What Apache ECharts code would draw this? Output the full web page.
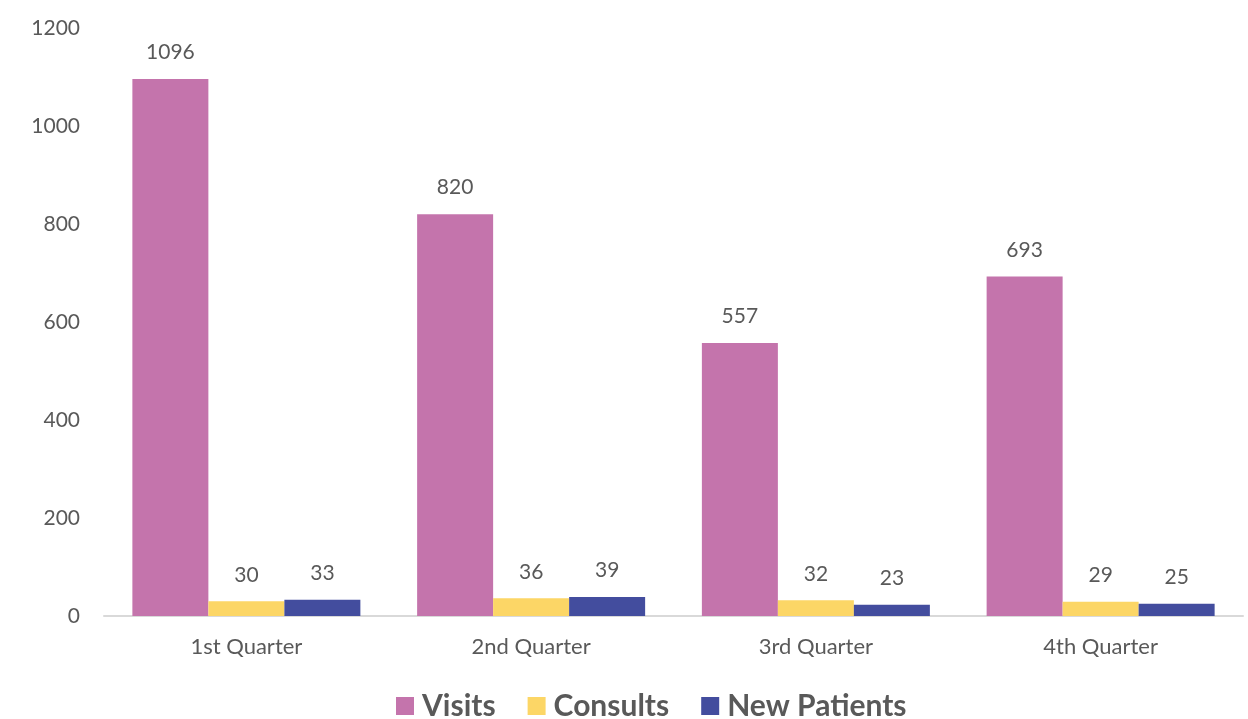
<!DOCTYPE html>
<html><head><meta charset="utf-8">
<script src="https://cdn.jsdelivr.net/npm/echarts@6/dist/echarts.min.js"></script>
<style>html,body{margin:0;padding:0;background:#fff}#c{width:1248px;height:719px}</style>
</head><body><div id="c"></div>
<script>
const categories = ['1st Quarter','2nd Quarter','3rd Quarter','4th Quarter'];
const visits = [1096, 820, 557, 693];
const consults = [30, 36, 32, 29];
const newPatients = [33, 39, 23, 25];
const yTicks = [0, 200, 400, 600, 800, 1000, 1200];

const FONT = 'Lato, "Open Sans", sans-serif';
const TXT = '#595959';
const chart = echarts.init(document.getElementById('c'));
function ser(name, data, color){
  return {name, type:'bar', data, barWidth:76, barGap:'0%',
    itemStyle:{color},
    label:{show:true, position:'top', distance:16, color:TXT, fontSize:21, fontFamily:FONT}};
}
chart.setOption({
  animation:false,
  textStyle:{fontFamily:FONT},
  grid:{left:104, right:5, top:28, bottom:103, containLabel:false},
  legend:{bottom:-7, left:391, itemWidth:18, itemHeight:18, itemGap:32, icon:'rect',
    textStyle:{fontSize:30, fontWeight:'bold', color:TXT, fontFamily:FONT, padding:[0,0,0,3]},
    data:['Visits','Consults','New Patients']},
  xAxis:{type:'category', data:categories,
    axisLine:{lineStyle:{color:'#D9D9D9', width:2}}, axisTick:{show:false},
    axisLabel:{color:TXT, fontSize:22, margin:20, fontFamily:FONT}},
  yAxis:{type:'value', min:yTicks[0], max:yTicks[yTicks.length-1], interval:200,
    splitLine:{show:false}, axisLine:{show:false}, axisTick:{show:false},
    axisLabel:{color:TXT, fontSize:21, margin:24, fontFamily:FONT, formatter:function(v){return String(v);}}},
  series:[ser('Visits', visits, '#C474AC'), ser('Consults', consults, '#FCD666'), ser('New Patients', newPatients, '#434D9E')]
});
</script></body></html>
